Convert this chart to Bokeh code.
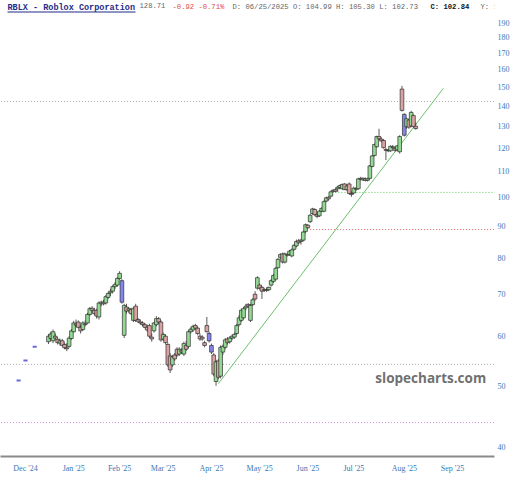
from bokeh.plotting import figure
from bokeh.models import (ColumnDataSource, FixedTicker, BasicTickFormatter, Label,
                          BoxAnnotation, Range1d)
from bokeh.embed import file_html
from bokeh.resources import INLINE

# ---------------- data ----------------
# trading-day index 0 = 2 Dec 2024
month_idx = [0, 21, 41, 60, 81, 102, 123, 143, 165, 186]
month_labels = ["Dec '24", "Jan '25", "Feb '25", "Mar '25", "Apr '25", "May '25",
                "Jun '25", "Jul '25", "Aug '25", "Sep '25"]
y_ticks = [40, 50, 60, 70, 80, 90, 100, 110, 120, 130, 140, 150, 160, 170, 180, 190]

start_idx = 10
opens = [
    58.8, 59.5, 59.0, 60.0, 59.3, 58.5, 59.0, 58.2, 57.5, 57.8, 59.5,            # Dec
    61.0, 62.8, 63.2, 62.0, 61.5, 62.8, 63.0, 65.0, 66.5, 66.0, 66.0, 64.4, 67.6,
    68.0, 67.8, 69.2, 70.4, 70.8, 72.0, 72.4,                                    # Jan
    74.2, 73.6, 60.2, 66.8, 66.0, 66.2, 63.6, 67.0, 63.8, 63.2, 63.0, 62.6, 62.0,
    62.4, 59.8, 61.2, 62.6, 64.0, 63.2,                                          # Feb
    59.4, 60.0, 58.2, 55.8, 54.0, 56.0, 57.2, 56.2, 57.0, 56.2, 58.0, 57.8, 61.0,
    61.4, 62.4, 61.8, 60.0, 59.8, 58.6, 62.4, 60.6,                              # Mar
    58.0, 56.0, 50.8, 54.8, 51.8, 56.6, 57.6, 59.4, 58.8, 59.6, 59.8, 60.6, 62.6,
    63.6, 64.2, 66.6, 67.4, 63.6, 67.4, 70.0, 71.6,                              # Apr
    72.4, 71.8, 71.0, 71.2, 71.2, 72.4, 73.4, 74.0, 77.2, 80.2, 81.2, 78.8, 81.0,
    81.0, 80.6, 82.6, 83.6, 85.2, 85.0, 85.4, 88.2,                              # May
    90.2, 91.4, 94.2, 95.6, 93.8, 93.4, 95.0, 95.0, 98.6, 100.0, 100.4, 102.2,
    102.8, 103.2, 103.6, 103.2, 104.99, 102.8, 105.0, 101.4,                     # Jun
    101.6, 103.2, 103.2, 107.2, 106.6, 107.0, 106.4, 107.2, 112.0, 116.6, 120.4,
    125.0, 123.8, 123.2, 119.2, 118.8, 118.6, 120.4, 119.6, 119.0, 118.2, 148.8, # Jul
    135.6, 129.6, 132.8, 130.0, 135.0, 129.8,                                    # Aug
]
highs = [
    60.5, 61.0, 61.5, 60.6, 59.8, 59.5, 59.4, 58.6, 58.5, 60.0, 61.6,
    63.5, 63.8, 63.6, 62.6, 63.4, 63.6, 65.4, 66.8, 67.0, 66.6, 66.4, 68.2, 68.4,
    68.6, 69.8, 70.6, 71.4, 72.4, 73.2, 74.6,
    76.2, 74.0, 67.6, 67.6, 66.8, 66.6, 66.8, 67.6, 64.2, 63.8, 63.4, 63.0, 62.6,
    62.8, 60.6, 63.2, 64.6, 64.4, 63.6,
    60.8, 60.4, 58.6, 56.4, 56.0, 56.4, 57.6, 57.6, 57.4, 58.8, 59.0, 61.4, 62.0,
    62.6, 62.8, 62.2, 60.6, 60.2, 59.0, 64.4, 61.0,
    58.4, 56.4, 55.0, 55.2, 58.0, 58.2, 59.6, 59.8, 60.0, 60.4, 60.8, 62.8, 64.8,
    66.4, 66.8, 67.6, 67.8, 67.6, 69.0, 70.8, 74.8,
    72.8, 72.2, 71.6, 71.8, 72.0, 74.0, 75.4, 77.4, 80.0, 81.4, 81.6, 81.6, 81.4,
    82.4, 82.8, 84.2, 85.6, 85.8, 85.8, 88.4, 90.8,
    90.6, 94.0, 96.2, 96.0, 94.4, 95.4, 96.4, 98.8, 100.2, 100.4, 102.4, 103.0,
    103.4, 104.2, 104.8, 105.2, 105.30, 104.6, 105.6, 102.2,
    104.0, 103.8, 107.4, 107.8, 107.6, 107.6, 107.4, 112.6, 116.8, 121.8, 125.4,
    128.6, 124.6, 123.8, 119.8, 119.4, 121.0, 121.2, 120.4, 121.2, 125.6, 150.6,
    136.2, 134.0, 133.4, 137.4, 135.6, 131.6,
]
lows = [
    58.3, 59.0, 58.5, 59.2, 58.2, 58.0, 57.8, 57.2, 56.8, 57.5, 59.2,
    60.8, 62.0, 61.8, 60.6, 61.2, 62.2, 62.8, 64.6, 65.6, 64.8, 64.0, 63.8, 67.0,
    67.2, 67.4, 68.8, 69.6, 70.2, 71.4, 72.0,
    73.8, 67.6, 59.6, 65.2, 65.4, 64.8, 63.2, 63.2, 63.0, 62.6, 62.2, 61.8, 61.0,
    59.6, 58.8, 60.8, 62.2, 62.8, 58.8,
    59.0, 58.2, 53.6, 52.4, 53.6, 54.8, 55.6, 55.8, 56.2, 55.8, 56.8, 57.4, 60.6,
    61.0, 61.4, 60.2, 59.0, 59.0, 57.6, 60.8, 58.6,
    56.2, 51.8, 50.0, 51.2, 51.4, 56.0, 57.2, 58.2, 58.4, 59.2, 59.4, 60.2, 62.2,
    63.2, 63.8, 66.0, 66.6, 63.2, 67.0, 68.4, 71.2,
    71.2, 68.8, 70.6, 70.6, 70.8, 72.0, 73.0, 73.6, 77.0, 79.6, 78.4, 78.4, 80.4,
    80.6, 80.2, 82.2, 83.2, 84.2, 84.0, 85.0, 87.6,
    89.0, 91.0, 93.8, 93.4, 92.6, 93.0, 94.6, 94.6, 98.2, 98.8, 100.0, 101.6,
    101.8, 102.0, 103.0, 102.8, 102.73, 102.4, 101.0, 100.2,
    101.2, 102.4, 102.8, 106.4, 106.2, 106.0, 106.0, 106.8, 111.6, 116.2, 120.0,
    123.4, 122.4, 119.6, 114.6, 118.0, 118.2, 119.6, 118.2, 118.4, 117.4, 137.0,
    125.0, 128.6, 128.6, 129.4, 129.2, 128.2,
]
closes = [
    60.0, 60.5, 61.0, 59.6, 58.6, 59.0, 58.0, 57.5, 57.3, 59.6, 61.2,
    63.0, 62.5, 62.0, 61.2, 63.0, 62.6, 65.0, 66.4, 66.0, 65.2, 64.6, 67.8, 68.0,
    67.6, 69.4, 70.2, 70.8, 72.0, 72.6, 74.2,
    75.6, 68.0, 67.2, 65.8, 66.4, 65.2, 66.4, 63.6, 63.4, 63.0, 62.6, 62.0, 61.4,
    60.0, 59.4, 63.0, 64.0, 63.2, 59.2,
    60.4, 58.6, 54.0, 53.0, 55.6, 55.2, 56.0, 57.2, 56.6, 58.4, 57.2, 61.0, 61.6,
    62.2, 61.8, 60.6, 59.4, 59.4, 58.0, 61.0, 59.0,
    56.6, 52.2, 54.6, 51.6, 57.6, 57.8, 59.2, 58.6, 59.6, 60.0, 60.4, 62.4, 64.2,
    66.0, 66.4, 67.0, 67.0, 67.2, 68.6, 68.8, 74.4,
    71.6, 70.8, 71.2, 71.0, 71.8, 73.6, 75.0, 77.0, 79.6, 81.0, 78.8, 81.2, 80.8,
    82.0, 82.4, 83.8, 85.0, 84.6, 85.4, 88.0, 90.4,
    89.4, 93.6, 95.8, 93.8, 93.2, 95.0, 96.0, 98.4, 99.8, 99.4, 102.0, 102.6,
    102.2, 103.8, 104.4, 104.8, 102.84, 104.2, 101.4, 101.0,
    103.4, 103.0, 107.0, 106.8, 107.2, 106.4, 107.0, 112.2, 116.4, 121.4, 125.0,
    124.0, 123.0, 120.0, 118.8, 118.6, 120.6, 120.0, 118.8, 120.8, 125.0, 137.6,
    125.6, 133.4, 129.4, 136.6, 129.63, 128.71,
]
blue_idx = [42, 80, 81, 165]

# early isolated price marks (Dec '24)
dash_idx = [-3, 0, 4]
dash_val = [51.0, 54.9, 57.7]

# horizontal levels and the trend line
level_val = [142.2, 101.8, 88.8, 54.1, 43.7]
level_from = [-12, 135, 124, -12, -12]
trend_x = [84, 182]
trend_y = [50.4, 149.2]

# ---------------- styling ----------------
GREEN, RED, BLUE = "#93d993", "#d9a3a3", "#8585ee"
EDGE = "#2e2e2e"
level_colors = ["#a8a8a8", "#55cc55", "#e06060", "#a8a8a8", "#d090e0"]

idx = list(range(start_idx, start_idx + len(opens)))
colors = []
for i, o, c in zip(idx, opens, closes):
    if i in blue_idx:
        colors.append(BLUE)
    elif c >= o:
        colors.append(GREEN)
    else:
        colors.append(RED)

src = ColumnDataSource(dict(
    idx=idx, high=highs, low=lows,
    top=[max(o, c) for o, c in zip(opens, closes)],
    bottom=[min(o, c) for o, c in zip(opens, closes)],
    color=colors,
))

FW, FH = 494, 456
p = figure(frame_width=FW, frame_height=FH, output_backend="svg",
           toolbar_location=None,
           y_axis_type="log", y_axis_location="right", title=None,
           x_range=Range1d(-10.89, 204.3), y_range=Range1d(38.56, 206.1),
           min_border_left=0, min_border_top=0, min_border_right=0,
           min_border_bottom=0)
p.outline_line_color = None
p.grid.visible = False
p.background_fill_color = "white"
p.border_fill_color = "white"

# levels
p.segment(x0=level_from, y0=level_val, x1=[206] * len(level_val), y1=level_val,
          line_color=level_colors, line_width=1, line_dash="1 2")

# trend line
p.line(trend_x, trend_y, line_color="#6cbf6c", line_width=1)

# candles
p.segment(x0="idx", y0="high", x1="idx", y1="low", source=src,
          line_color=EDGE, line_width=0.8)
p.vbar(x="idx", width=1.6, top="top", bottom="bottom", source=src,
       fill_color="color", line_color=EDGE, line_width=0.7)

p.rect(x=dash_idx, y=dash_val, width=1.8, height=2, height_units="screen",
       fill_color="#6a6ad8", line_color=None)

# axes
for ax in (p.xaxis[0], p.yaxis[0]):
    ax.axis_label = None
    ax.axis_label_standoff = 0
    ax.major_tick_out = 0
    ax.major_tick_in = 0
    ax.minor_tick_out = 0
    ax.minor_tick_in = 0
    ax.major_tick_line_color = None
    ax.minor_tick_line_color = None
    ax.major_label_text_font = "Liberation Serif"
    ax.major_label_text_font_size = "8px"
    ax.major_label_text_color = "#3a78b4"

xa = p.xaxis[0]
xa.ticker = FixedTicker(ticks=month_idx)
xa.major_label_overrides = {i: s for i, s in zip(month_idx, month_labels)}
xa.axis_line_color = "#8a8a8a"
xa.axis_line_width = 2
xa.major_label_standoff = 7

ya = p.yaxis[0]
ya.ticker = FixedTicker(ticks=y_ticks)
ya.formatter = BasicTickFormatter()
ya.axis_line_color = None
ya.major_label_standoff = 3

# watermark
p.add_layout(Label(x=152.4, y=51.4, text="slopecharts.com", text_font="Open Sans",
                   text_font_style="bold", text_font_size="13.5px",
                   text_color="#707070", text_baseline="middle"))

# header
def hdr(x, text, color, bold=False, size="7.2px"):
    p.add_layout(Label(x=x, y=FH - 2, x_units="screen", y_units="screen", text=text,
                       text_font="Liberation Mono", text_font_size=size,
                       text_color=color, text_font_style="bold" if bold else "normal",
                       text_baseline="top", text_align="left"))

hdr(7, "RBLX - Roblox Corporation", "#1f2d8a", bold=True, size="8.5px")
hdr(139, "128.71", "#666666")
hdr(172, "-0.92 -0.71%", "#e04848")
hdr(232, "D: 06/25/2025 O: 104.99 H: 105.30 L: 102.73", "#666666")
hdr(430, "C: 102.84", "#111111", bold=True)
hdr(480, "Y: 153", "#666666")
p.add_layout(BoxAnnotation(left=7, right=135, bottom=FH - 12, top=FH - 11,
                           left_units="screen", right_units="screen",
                           bottom_units="screen", top_units="screen",
                           fill_color="#1f2d8a", fill_alpha=1, line_color=None))

open("out.html", "w").write(file_html(p, INLINE))
